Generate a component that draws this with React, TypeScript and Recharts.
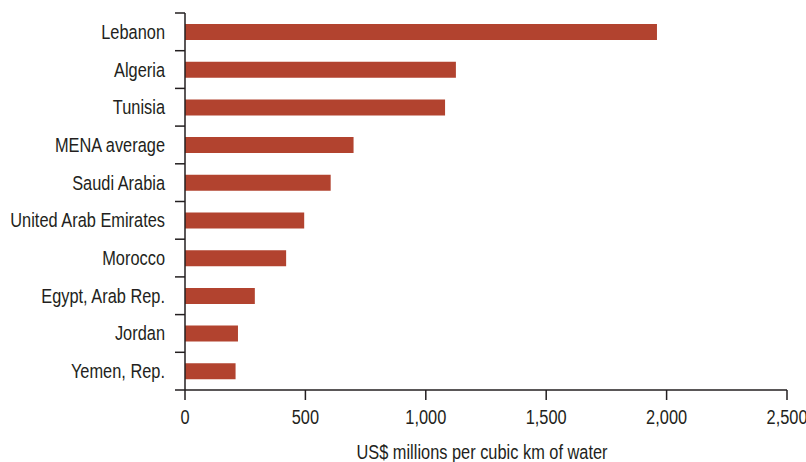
import React from "react"
import { BarChart, Bar, XAxis, YAxis } from "recharts"

const countries = [
  "Lebanon",
  "Algeria",
  "Tunisia",
  "MENA average",
  "Saudi Arabia",
  "United Arab Emirates",
  "Morocco",
  "Egypt, Arab Rep.",
  "Jordan",
  "Yemen, Rep.",
]
const productivity = [1960, 1125, 1080, 700, 605, 495, 420, 290, 220, 210]
const xTicks = [0, 500, 1000, 1500, 2000, 2500]
const xTitle = "US$ millions per cubic km of water"

const data = countries.map((name, i) => ({ name, value: productivity[i] }))

const W = 806
const H = 462
const M = { top: 13, right: 19, bottom: 0, left: 0 }
const X_AXIS_H = 72
const BAND = (H - M.top - M.bottom - X_AXIS_H) / countries.length

// the source uses a condensed face; squeeze Liberation Sans to match
const FONT = "'Liberation Sans', Arial, sans-serif"
const FS = 19.5
const SQUEEZE = 0.84
const INK = "#231f20"
const BAR = "#b2432f"

function CondensedText({ x, y, anchor, dy, children }: any) {
  return (
    <text
      transform={`translate(${x} ${y}) scale(${SQUEEZE} 1)`}
      x={0}
      y={0}
      dy={dy}
      textAnchor={anchor}
      fontFamily={FONT}
      fontSize={FS}
      fill={INK}
    >
      {children}
    </text>
  )
}

// label plus a tick at the top of each band (and the bottom of the last one)
function CategoryTick(props: any) {
  const { x, y, payload, index } = props
  const axisX = x + 20
  return (
    <g>
      <line x1={axisX - 10} x2={axisX} y1={y - BAND / 2} y2={y - BAND / 2} stroke={INK} strokeWidth={1.5} />
      {index === countries.length - 1 && (
        <line x1={axisX - 10} x2={axisX} y1={y + BAND / 2} y2={y + BAND / 2} stroke={INK} strokeWidth={1.5} />
      )}
      <CondensedText x={x} y={y} anchor="end" dy="0.36em">
        {payload.value}
      </CondensedText>
    </g>
  )
}

function ValueTick(props: any) {
  const { x, y, payload } = props
  return (
    <CondensedText x={x} y={y} anchor="middle" dy={24}>
      {Number(payload.value).toLocaleString("en-US")}
    </CondensedText>
  )
}

function AxisTitle(props: any) {
  const { x, y, width, height } = props.viewBox
  return (
    <CondensedText x={x + width / 2 - 4} y={y + height - 3} anchor="middle" dy={0}>
      {xTitle}
    </CondensedText>
  )
}

export default function App() {
  return (
    <div style={{ position: "absolute", left: 0, top: 0, background: "#fff" }}>
      <BarChart width={W} height={H} data={data} layout="vertical" margin={M}>
        <XAxis
          type="number"
          domain={[0, 2500]}
          ticks={xTicks}
          height={X_AXIS_H}
          tickSize={10}
          tickMargin={0}
          tick={<ValueTick />}
          axisLine={{ stroke: INK, strokeWidth: 1.5 }}
          tickLine={{ stroke: INK, strokeWidth: 1.5 }}
          label={<AxisTitle />}
        />
        <YAxis
          type="category"
          dataKey="name"
          width={185}
          tickSize={10}
          tickMargin={10}
          tickLine={false}
          interval={0}
          tick={<CategoryTick />}
          axisLine={{ stroke: INK, strokeWidth: 1.5 }}
        />
        <Bar dataKey="value" fill={BAR} barSize={16} isAnimationActive={false} />
      </BarChart>
    </div>
  )
}
